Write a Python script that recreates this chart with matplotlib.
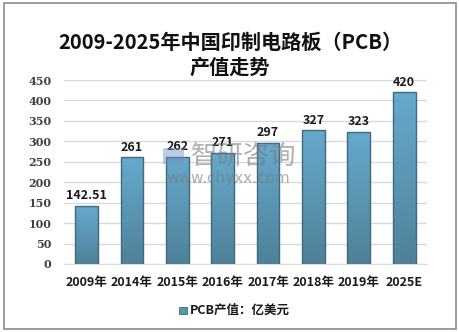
import numpy as np
import matplotlib
matplotlib.use('Agg')
import matplotlib.pyplot as plt
from matplotlib.patches import Rectangle
from matplotlib.colors import LinearSegmentedColormap

plt.rcParams['font.family'] = ['Noto Sans CJK SC', 'DejaVu Sans']

years = ['2009年', '2014年', '2015年', '2016年', '2017年', '2018年', '2019年', '2025E']
values = [142.51, 261, 262, 271, 297, 327, 323, 420]
value_labels = ['142.51', '261', '262', '271', '297', '327', '323', '420']
y_ticks = [0, 50, 100, 150, 200, 250, 300, 350, 400, 450]

fig = plt.figure(figsize=(4.6, 3.32), dpi=100)
fig.patch.set_facecolor('white')
# outer frame
fig.add_artist(Rectangle((0.009, 0.009), 0.982, 0.982, transform=fig.transFigure,
                         fill=False, edgecolor='#8c8c8c', linewidth=1.2))

ax = fig.add_axes([0.139, 0.205, 0.789, 0.554])

# vertical gradient for the bars
cmap = LinearSegmentedColormap.from_list('bar', ['#4f8199', '#66aacc'])
grad = np.linspace(0, 1, 256).reshape(-1, 1)
w = 0.5
for i, v in enumerate(values):
    rect = Rectangle((i - w / 2, 0), w, v, facecolor='none', edgecolor='#3d6a82',
                     linewidth=1.0, zorder=3)
    ax.add_patch(rect)
    im = ax.imshow(grad, cmap=cmap, aspect='auto', origin='lower',
                   extent=(i - w / 2, i + w / 2, 0, v), zorder=2)
    im.set_clip_path(rect)
    ax.text(i, v + 9, value_labels[i], ha='center', va='bottom', fontsize=9,
            fontweight='bold', color='#1a1a1a', zorder=4)

ax.set_xlim(-0.5, len(years) - 0.5)
ax.set_ylim(0, 450)
ax.set_yticks(y_ticks)
ax.set_yticklabels([str(t) for t in y_ticks], fontsize=8, fontweight='bold',
                   color='#404040', family=['DejaVu Serif'])
ax.set_xticks(range(len(years)))
ax.set_xticklabels(years, fontsize=9, fontweight='bold', color='#1a1a1a')
ax.tick_params(axis='x', length=0, pad=9)
ax.tick_params(axis='y', length=0, pad=9)
ax.grid(axis='y', color='#d9d9d9', linewidth=1.0, zorder=0)
ax.set_axisbelow(True)
for s in ['top', 'right', 'left']:
    ax.spines[s].set_visible(False)
ax.spines['bottom'].set_color('#d9d9d9')

fig.text(0.5, 0.835, '2009-2025年中国印制电路板（PCB）\n产值走势', ha='center', va='center',
         fontsize=14.5, fontweight='bold', color='#111111', linespacing=1.25)

# watermark
fig.add_artist(Rectangle((0.355, 0.505), 0.045, 0.05, transform=fig.transFigure,
                         facecolor='#6f8fbf', edgecolor='none', alpha=0.45, zorder=10))
fig.text(0.53, 0.53, '智研咨询', ha='center', va='center', fontsize=19,
         color='#7a7a7a', alpha=0.6, zorder=10)
fig.text(0.497, 0.462, 'www.chyxx.com', ha='center', va='center', fontsize=11,
         color='#7a7a7a', alpha=0.6, zorder=10, family=['DejaVu Sans'])

# legend
fig.add_artist(Rectangle((0.39, 0.053), 0.016, 0.022, transform=fig.transFigure,
                         facecolor='#5a93b0', edgecolor='#3d6a82', linewidth=0.6))
fig.text(0.412, 0.064, 'PCB产值：亿美元', ha='left', va='center', fontsize=9,
         fontweight='bold', color='#1a1a1a')

fig.savefig('out.png', dpi=100)
